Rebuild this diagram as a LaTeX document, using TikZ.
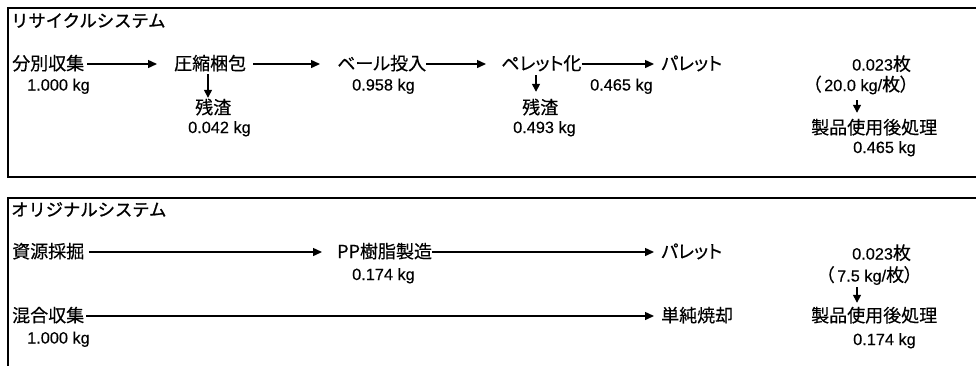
\documentclass[tikz,border=0pt]{standalone}
\usepackage{fontspec}
\setmainfont[FakeBold=0.3]{Liberation Sans}
\newfontfamily\jpf[FakeBold=0.4,RawFeature=+palt]{Noto Sans CJK JP}
\newfontfamily\jpt[FakeBold=1.2]{Noto Sans CJK JP}
\usetikzlibrary{arrows.meta}
\newcommand\jp[1]{{\jpf\fontsize{18}{20}\selectfont #1}}
\tikzset{
 lbl/.style={inner sep=0pt, anchor=base west, font=\fontsize{16.3}{18}\selectfont, text height=11pt, text depth=0pt},
 jtx/.style={inner sep=0pt, anchor=base west, font=\jpf\fontsize{18}{20}\selectfont, text height=12pt, text depth=0pt},
 ttl/.style={inner sep=0pt, anchor=base west, font=\jpt\fontsize{17.3}{20}\selectfont, text height=12pt, text depth=0pt},
 arr/.style={line width=1.4pt, -{Triangle[length=9pt,width=8pt]}},
 arrd/.style={line width=1.4pt, -{Triangle[length=8pt,width=8pt]}},
 frame/.style={line width=2.4pt}
}
\begin{document}
\begin{tikzpicture}[x=1pt,y=-1pt]
\useasboundingbox (0,0) rectangle (976,365);
\fill[white] (0,0) rectangle (976,365);
\draw[frame] (990,8) -- (8,8) -- (8,177) -- (990,177);
\draw[frame] (990,198) -- (8,198) -- (8,380);
% recycle system
\node[ttl] (t1) at (11,27) {リサイクルシステム};
\node[jtx] (a) at (12,70) {分別収集};
\node[lbl] (am) at (27,90.5) {1.000 kg};
\node[jtx] (b) at (174,70) {圧縮梱包};
\node[jtx] (br) at (195,114) {残渣};
\node[lbl] (brm) at (188,133) {0.042 kg};
\node[jtx] (c) at (337,70) {ベール投入};
\node[lbl] (cm) at (352,90.5) {0.958 kg};
\node[jtx] (d) at (501,70) {ペレット化};
\node[jtx] (dr) at (522,114) {残渣};
\node[lbl] (drm) at (513,133) {0.493 kg};
\node[lbl] (dm) at (590,90.5) {0.465 kg};
\node[jtx] (e) at (661,70) {パレット};
\node[lbl] (f) at (852,70.5) {0.023\jp{枚}};
\node[lbl] (fr) at (812,91) {\jp{（}\hspace{3pt}20.0 kg/\jp{枚）}};
\node[jtx] (g) at (811,134) {製品使用後処理};
\node[lbl] (gm) at (853,153) {0.465 kg};
\draw[arr, shorten <=3pt, shorten >=17pt] (a.east) -- (b.west);
\draw[arr, shorten <=7pt, shorten >=17pt] (b.east) -- (c.west);
\draw[arr, shorten >=15pt] (c.east) -- (d.west);
\draw[arr, shorten >=7pt] (d.east) -- (e.west);
\coordinate (bx) at ([xshift=13pt]br.north west);
\draw[arrd, shorten <=4pt, shorten >=4pt] (bx |- b.south) -- (bx);
\coordinate (dx) at ([xshift=14pt]dr.north west);
\draw[arrd, shorten <=5pt, shorten >=10pt] (dx |- d.south) -- (dx);
\coordinate (gx) at ([xshift=46pt]g.north west);
\draw[arrd, shorten <=9pt, shorten >=9pt] (gx |- fr.south) -- (gx);
% original system
\node[ttl] (t2) at (11,216) {オリジナルシステム};
\node[jtx] (h) at (12,258) {資源採掘};
\node[jtx] (i) at (337,258) {PP樹脂製造};
\node[lbl] (im) at (352,280) {0.174 kg};
\node[jtx] (j) at (661,258) {パレット};
\node[jtx] (k) at (12,322) {混合収集};
\node[lbl] (km) at (27,343.5) {1.000 kg};
\node[jtx] (l) at (661,322) {単純焼却};
\node[lbl] (m) at (852,259.5) {0.023\jp{枚}};
\node[lbl] (mr) at (825,281.5) {\jp{（}\hspace{3pt}7.5 kg/\jp{枚）}};
\node[jtx] (n) at (811,322) {製品使用後処理};
\node[lbl] (nm) at (853,345) {0.174 kg};
\draw[arr, shorten <=5pt, shorten >=15pt] (h.east) -- (i.west);
\draw[arr, shorten >=7pt] (i.east) -- (j.west);
\draw[arr, shorten <=2pt, shorten >=7pt] (k.east) -- (l.west);
\coordinate (nx) at ([xshift=46pt]n.north west);
\draw[arrd, shorten <=5.5pt, shorten >=7pt] (nx |- mr.south) -- (nx);
\end{tikzpicture}
\end{document}
